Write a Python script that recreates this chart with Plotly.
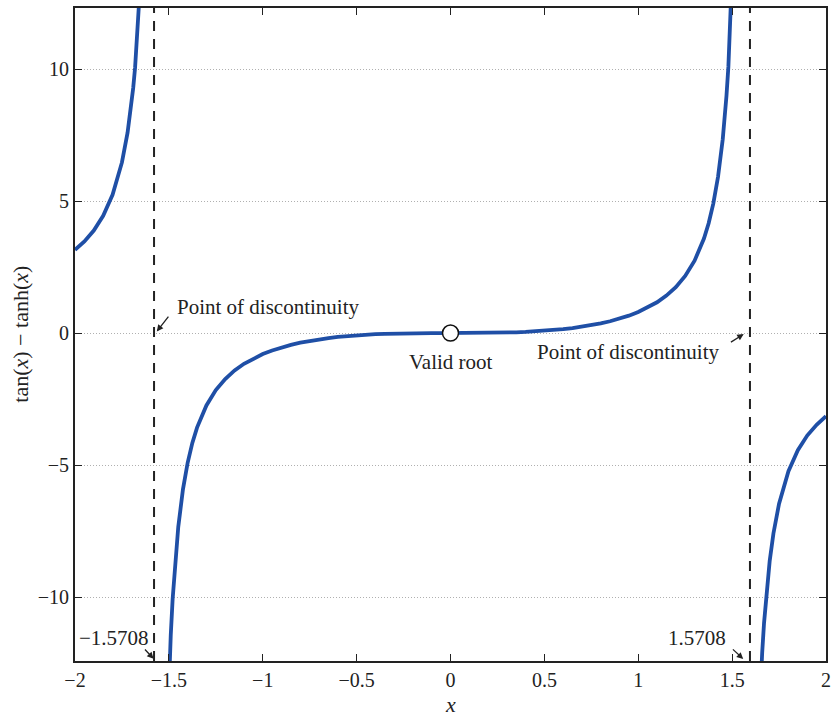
import plotly.graph_objects as go

# Branch left of -pi/2
x_left = [-2.0, -1.95, -1.9, -1.85, -1.8, -1.75, -1.72, -1.7, -1.69, -1.68, -1.67, -1.66, -1.65, -1.64]
y_left = [3.149, 3.472, 3.883, 4.439, 5.233, 6.462, 7.59, 8.632, 9.28, 10.05, 10.98, 12.11, 13.53, 15.36]

# Central branch
x_mid = [-1.51, -1.5, -1.49, -1.48, -1.47, -1.46, -1.45, -1.425, -1.4, -1.375, -1.35, -1.3, -1.25, -1.2,
         -1.15, -1.1, -1.05, -1.0, -0.95, -0.9, -0.85, -0.8, -0.75, -0.7, -0.65, -0.6, -0.55, -0.5,
         -0.45, -0.4, -0.35, -0.3, -0.25, -0.2, -0.15, -0.1, -0.05, 0.0,
         0.05, 0.1, 0.15, 0.2, 0.25, 0.3, 0.35, 0.4, 0.45, 0.5, 0.55, 0.6, 0.65, 0.7, 0.75, 0.8,
         0.85, 0.9, 0.95, 1.0, 1.05, 1.1, 1.15, 1.2, 1.25, 1.3, 1.35, 1.375, 1.4, 1.425, 1.45,
         1.46, 1.47, 1.48, 1.49, 1.5, 1.51]
y_mid = [-15.52, -13.20, -11.45, -10.08, -8.99, -8.09, -7.342, -5.92, -4.913, -4.16, -3.581, -2.740,
         -2.161, -1.739, -1.417, -1.164, -0.9615, -0.7958, -0.6586, -0.5439, -0.4473, -0.3656,
         -0.2965, -0.2379, -0.1885, -0.1471, -0.1126, -0.0842, -0.0612, -0.0428, -0.0287, -0.0180,
         -0.0104, -0.0053, -0.0023, -0.0007, -0.0001, 0.0,
         0.0001, 0.0007, 0.0023, 0.0053, 0.0104, 0.0180, 0.0287, 0.0428, 0.0612, 0.0842, 0.1126,
         0.1471, 0.1885, 0.2379, 0.2965, 0.3656, 0.4473, 0.5439, 0.6586, 0.7958, 0.9615, 1.164,
         1.417, 1.739, 2.161, 2.740, 3.581, 4.16, 4.913, 5.92, 7.342,
         8.09, 8.99, 10.08, 11.45, 13.20, 15.52]

# Branch right of +pi/2
x_right = [1.64, 1.65, 1.66, 1.67, 1.68, 1.69, 1.7, 1.72, 1.75, 1.8, 1.85, 1.9, 1.95, 2.0]
y_right = [-15.36, -13.53, -12.11, -10.98, -10.05, -9.28, -8.632, -7.59, -6.462, -5.233, -4.439, -3.883, -3.472, -3.149]

disc_x = [-1.5708, 1.5708]          # labelled discontinuities (arrow targets)
disc_line_x = [-1.579, 1.595]       # where the dashed lines sit in the picture
root_x = [0.0]
root_y = [0.0]

x_ticks = [-2, -1.5, -1, -0.5, 0, 0.5, 1, 1.5, 2]
x_tick_text = ["\u22122", "\u22121.5", "\u22121", "\u22120.5", "0", "0.5", "1", "1.5", "2"]
y_ticks = [-10, -5, 0, 5, 10]
y_tick_text = ["\u221210", "\u22125", "0", "5", "10"]

BLUE = "#1f4fa6"
FONT = "Liberation Serif"
YR = [-12.42, 12.31]

fig = go.Figure()
for xs, ys in [(x_left, y_left), (x_mid, y_mid), (x_right, y_right)]:
    fig.add_trace(go.Scatter(x=xs, y=ys, mode="lines", line=dict(color=BLUE, width=3.8),
                             showlegend=False, hoverinfo="skip"))

for xd in disc_line_x:
    fig.add_trace(go.Scatter(x=[xd, xd], y=YR, mode="lines",
                             line=dict(color="#222222", width=2, dash="10px,8px"),
                             showlegend=False, hoverinfo="skip"))

fig.add_trace(go.Scatter(x=root_x, y=root_y, mode="markers",
                         marker=dict(symbol="circle", size=16, color="white",
                                     line=dict(color="#111111", width=1.5)),
                         showlegend=False, hoverinfo="skip"))

ann_font = dict(family=FONT, size=21, color="#222222")
fig.add_annotation(x=disc_x[0], y=0, ax=14, ay=-18, xref="x", yref="y",
                   text="", showarrow=True, arrowhead=2, arrowsize=1, arrowwidth=1.3,
                   arrowcolor="#222222", standoff=2)
fig.add_annotation(x=-1.47, y=1.0, xref="x", yref="y", text="Point of discontinuity",
                   showarrow=False, xanchor="left", yanchor="middle", font=ann_font)
fig.add_annotation(x=disc_x[1], y=0, ax=-16, ay=10, xref="x", yref="y",
                   text="", showarrow=True, arrowhead=2, arrowsize=1, arrowwidth=1.3,
                   arrowcolor="#222222", standoff=2)
fig.add_annotation(x=1.447, y=-0.72, xref="x", yref="y", text="Point of discontinuity",
                   showarrow=False, xanchor="right", yanchor="middle", font=ann_font)
fig.add_annotation(x=0, y=-1.1, xref="x", yref="y", text="Valid root",
                   showarrow=False, xanchor="center", yanchor="middle", font=ann_font)
fig.add_annotation(x=disc_x[0], y=YR[0], ax=-12, ay=-13, xref="x", yref="y",
                   text="", showarrow=True, arrowhead=2, arrowsize=1, arrowwidth=1.3,
                   arrowcolor="#222222", standoff=3)
fig.add_annotation(x=-1.595, y=-11.55, xref="x", yref="y", text="\u22121.5708",
                   showarrow=False, xanchor="right", yanchor="middle", font=ann_font)
fig.add_annotation(x=disc_x[1], y=YR[0], ax=-14, ay=-13, xref="x", yref="y",
                   text="", showarrow=True, arrowhead=2, arrowsize=1, arrowwidth=1.3,
                   arrowcolor="#222222", standoff=3)
fig.add_annotation(x=1.48, y=-11.55, xref="x", yref="y", text="1.5708",
                   showarrow=False, xanchor="right", yanchor="middle", font=ann_font)

# axis titles as paper annotations
fig.add_annotation(x=0.5, y=-0.066, xref="paper", yref="paper", text="<i>x</i>",
                   showarrow=False, xanchor="center", yanchor="middle", height=16,
                   font=dict(family=FONT, size=22, color="#222222"))
fig.add_annotation(x=-0.073, y=0.5, xref="paper", yref="paper",
                   text="tan(<i>x</i>) \u2212 tanh(<i>x</i>)", textangle=-90,
                   showarrow=False, xanchor="center", yanchor="middle",
                   font=dict(family=FONT, size=22, color="#222222"))

fig.update_layout(
    width=831, height=712,
    margin=dict(l=75, r=5, t=8, b=51, autoexpand=False),
    paper_bgcolor="white", plot_bgcolor="white",
    font=dict(family=FONT, size=20, color="#222222"),
    xaxis=dict(range=[-2, 2], tickvals=x_ticks, ticktext=x_tick_text, automargin=False,
               showgrid=False, zeroline=False, showline=True, linecolor="#222222", linewidth=2,
               mirror="ticks", ticks="inside", ticklen=7, tickcolor="#222222", tickwidth=1.2),
    yaxis=dict(range=YR, tickvals=y_ticks, ticktext=y_tick_text, automargin=False,
               showgrid=True, gridcolor="#b0b0b0", griddash="1px,2px", gridwidth=1,
               zeroline=False, showline=True, linecolor="#222222", linewidth=2,
               mirror="ticks", ticks="inside", ticklen=7, tickcolor="#222222", tickwidth=1.2),
)

fig.write_html("out.html", config={"displayModeBar": False},
               post_script="document.body.style.margin='0';document.body.style.overflow='hidden';")
